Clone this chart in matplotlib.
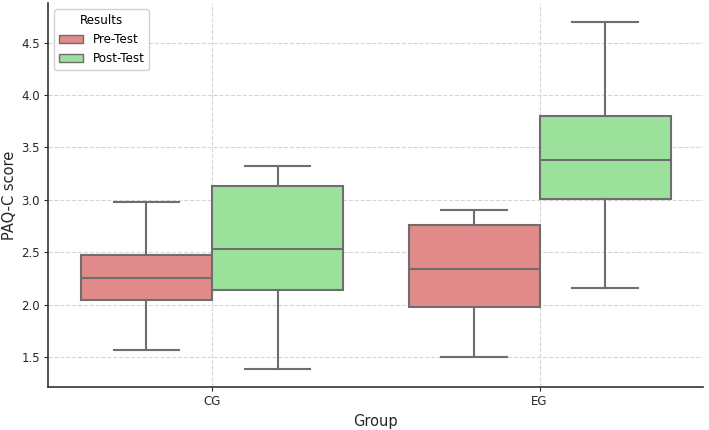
import matplotlib
matplotlib.use("Agg")
import matplotlib.pyplot as plt
from matplotlib.patches import Patch

groups = ["CG", "EG"]
tests = ["Pre-Test", "Post-Test"]
colors = {"Pre-Test": "#e08a8a", "Post-Test": "#9be09b"}

# five-number summaries: whislo, q1, med, q3, whishi
pre_stats = [[1.57, 2.04, 2.25, 2.47, 2.98],
             [1.50, 1.98, 2.34, 2.76, 2.90]]
post_stats = [[1.38, 2.14, 2.53, 3.13, 3.32],
              [2.16, 3.01, 3.38, 3.80, 4.70]]

plt.rcParams["font.family"] = "DejaVu Sans"
fig = plt.figure(figsize=(7.09, 4.30), dpi=100)
ax = fig.add_axes([0.068, 0.1, 0.924, 0.892])

line_col = "#6e6e6e"
offsets = {"Pre-Test": -0.2, "Post-Test": 0.2}
for test, stats in zip(tests, [pre_stats, post_stats]):
    bstats = []
    for s in stats:
        bstats.append(dict(whislo=s[0], q1=s[1], med=s[2], q3=s[3], whishi=s[4], fliers=[]))
    pos = [i + offsets[test] for i in range(len(groups))]
    ax.bxp(bstats, positions=pos, widths=0.4, capwidths=0.2, patch_artist=True,
           showfliers=False, manage_ticks=False,
           boxprops=dict(facecolor=colors[test], edgecolor=line_col, linewidth=1.5),
           medianprops=dict(color=line_col, linewidth=1.5),
           whiskerprops=dict(color=line_col, linewidth=1.5),
           capprops=dict(color=line_col, linewidth=1.5))

ax.set_xticks(range(len(groups)))
ax.set_xticklabels(groups)
ax.set_xlim(-0.5, 1.5)
ax.set_ylim(1.2125, 4.8755)
ax.set_yticks([1.5, 2.0, 2.5, 3.0, 3.5, 4.0, 4.5])
ax.set_xlabel("Group", fontsize=10.5, color="#262626", labelpad=4)
ax.set_ylabel("PAQ-C score", fontsize=10.5, color="#262626", labelpad=3)
ax.tick_params(labelsize=8.5, colors="#262626", length=3, pad=3)
ax.grid(True, linestyle="--", color="#cccccc", linewidth=0.8, alpha=0.8)
ax.set_axisbelow(True)
for side in ["top", "right"]:
    ax.spines[side].set_visible(False)
for side in ["left", "bottom"]:
    ax.spines[side].set_color("#333333")
    ax.spines[side].set_linewidth(1.2)

handles = [Patch(facecolor=colors[t], edgecolor=line_col, label=t) for t in tests]
ax.legend(handles=handles, title="Results", loc="upper left", fontsize=8.6,
          title_fontsize=8.6, framealpha=0.9)

fig.savefig("out.png", dpi=100)
